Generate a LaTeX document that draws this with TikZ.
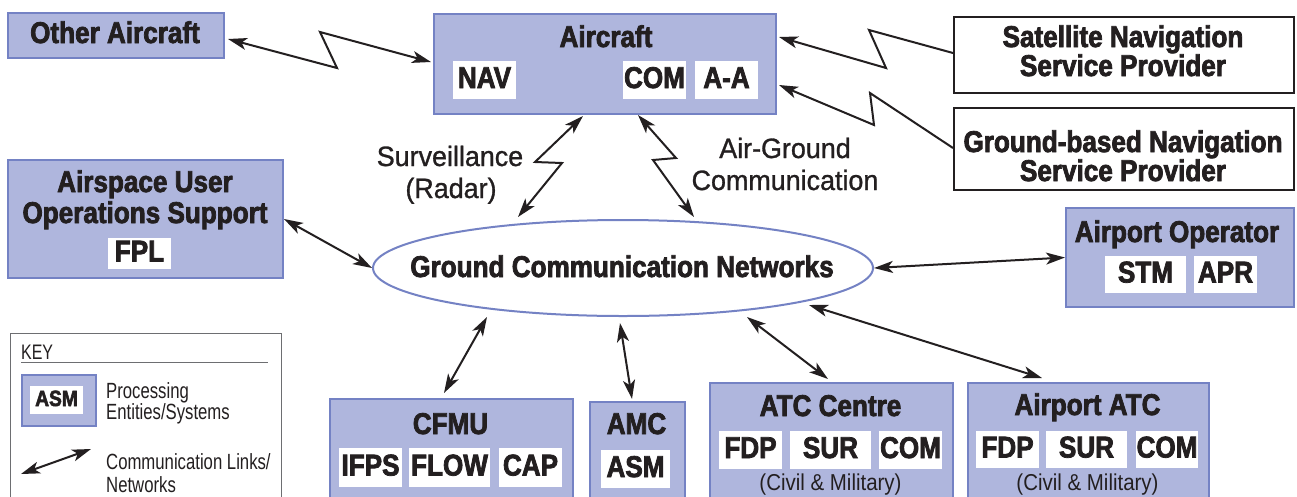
\documentclass[tikz,border=0pt]{standalone}
\usepackage{fontspec}
\setmainfont[FakeStretch=0.87, BoldFeatures={FakeBold=2.5}]{Liberation Sans}
\newfontfamily\lblfam[FakeStretch=0.96, FakeBold=1]{Liberation Sans}
\newfontfamily\civfam[FakeStretch=0.89]{Liberation Sans}
\newfontfamily\keyfam[FakeStretch=0.76]{Liberation Sans}
\usetikzlibrary{arrows.meta,shapes.geometric}
\definecolor{boxfill}{HTML}{AFB6DD}
\definecolor{boxline}{HTML}{7482C4}
\definecolor{ink}{HTML}{231F20}
\definecolor{keyline}{HTML}{6D6E71}
\newcommand\ttlfont{\fontsize{30}{30}\selectfont\bfseries}
\newcommand\lblfont{\fontsize{28}{28}\selectfont\lblfam}
\newcommand\civfont{\fontsize{23}{23}\selectfont\civfam}
\newcommand\keyfont{\fontsize{22}{22}\selectfont\keyfam}
\tikzset{
  sysbox/.style={draw=boxline, fill=boxfill, line width=2pt, inner sep=0pt, anchor=north west},
  navbox/.style={draw=ink, fill=white, line width=2pt, inner sep=0pt, anchor=north west},
  sub/.style={fill=white, inner sep=0pt, text height=22pt, text depth=6pt, font=\ttlfont, text=ink},
  ttl/.style={anchor=base, inner sep=0pt, font=\ttlfont, text=ink},
  lbl/.style={anchor=base, inner sep=0pt, font=\lblfont, text=ink},
  civ/.style={anchor=base, inner sep=0pt, font=\civfont, text=ink},
  keytxt/.style={anchor=base west, inner sep=0pt, font=\keyfont, text=ink},
  tip/.tip={Stealth[length=19pt, width=12pt, inset=5pt]},
  link/.style={draw=ink, line width=2pt, tip-tip},
  link1/.style={draw=ink, line width=2pt, -tip},
}
\begin{document}
\begin{tikzpicture}[x=1pt, y=-1pt]
\useasboundingbox (0,0) rectangle (1297,496);
\clip (0,0) rectangle (1297,496);
\fill[white] (0,0) rectangle (1297,496);

% ---- entities ----
\node[sysbox, minimum width=216pt, minimum height=45pt] (oa) at (7,12) {};
\node[ttl] (oa-t) at (115,43) {Other Aircraft};

\node[sysbox, minimum width=342pt, minimum height=100pt] (ac) at (433,13) {};
\node[ttl] (ac-t) at (606,47) {Aircraft};
\node[sub, minimum width=63pt, minimum height=38pt] (ac-nav) at (484.5,80) {NAV};
\node[sub, minimum width=63pt, minimum height=38pt] (ac-com) at (654.5,80) {COM};
\node[sub, minimum width=63pt, minimum height=38pt] (ac-aa) at (726.5,80) {A-A};

\node[navbox, minimum width=340pt, minimum height=76pt] (sat) at (953,16) {};
\node[ttl] (sat-t1) at (1123,47) {Satellite Navigation};
\node[ttl] (sat-t2) at (1123,76) {Service Provider};

\node[navbox, minimum width=340pt, minimum height=82pt] (gnd) at (953,107) {};
\node[ttl] (gnd-t1) at (1123,152) {Ground-based Navigation};
\node[ttl] (gnd-t2) at (1123,181) {Service Provider};

\node[sysbox, minimum width=275pt, minimum height=118pt] (aus) at (7,159) {};
\node[ttl] (aus-t1) at (145,192) {Airspace User};
\node[ttl] (aus-t2) at (145,223) {Operations Support};
\node[sub, minimum width=63pt, minimum height=31pt] (aus-fpl) at (139.5,253.5) {FPL};

\node[ellipse, draw=boxline, fill=white, line width=2pt, inner sep=0pt,
      minimum width=500pt, minimum height=96pt] (gcn) at (623,268) {};
\node[ttl] (gcn-t) at (622,277) {Ground Communication Networks};

\node[sysbox, minimum width=228pt, minimum height=99pt] (apo) at (1065,207) {};
\node[ttl] (apo-t) at (1177,242) {Airport Operator};
\node[sub, minimum width=81pt, minimum height=37pt] (apo-stm) at (1145.5,274.5) {STM};
\node[sub, minimum width=63pt, minimum height=37pt] (apo-apr) at (1225.5,274.5) {APR};

\node[sysbox, minimum width=243pt, minimum height=130pt] (cfmu) at (329,398) {};
\node[ttl] (cfmu-t) at (450.5,434) {CFMU};
\node[sub, minimum width=63pt, minimum height=39pt] (cfmu-ifps) at (370.5,467.5) {IFPS};
\node[sub, minimum width=81pt, minimum height=39pt] (cfmu-flow) at (449.5,467.5) {FLOW};
\node[sub, minimum width=63pt, minimum height=39pt] (cfmu-cap) at (530.5,467.5) {CAP};

\node[sysbox, minimum width=95pt, minimum height=130pt] (amc) at (589,401) {};
\node[ttl] (amc-t) at (636.5,434) {AMC};
\node[sub, minimum width=69pt, minimum height=38pt] (amc-asm) at (635.5,469) {ASM};

\node[sysbox, minimum width=243pt, minimum height=140pt] (atc) at (709,382) {};
\node[ttl] (atc-t) at (830.5,416) {ATC Centre};
\node[sub, minimum width=63pt, minimum height=38pt] (atc-fdp) at (750.5,450) {FDP};
\node[sub, minimum width=81pt, minimum height=38pt] (atc-sur) at (830.5,450) {SUR};
\node[sub, minimum width=63pt, minimum height=38pt] (atc-com) at (910.5,450) {COM};
\node[civ] (atc-c) at (830.5,490) {(Civil \& Military)};

\node[sysbox, minimum width=241pt, minimum height=140pt] (aatc) at (967,382) {};
\node[ttl] (aatc-t) at (1087.5,415) {Airport ATC};
\node[sub, minimum width=63pt, minimum height=37pt] (aatc-fdp) at (1007.5,449.5) {FDP};
\node[sub, minimum width=81pt, minimum height=37pt] (aatc-sur) at (1086.5,449.5) {SUR};
\node[sub, minimum width=62pt, minimum height=37pt] (aatc-com) at (1167,449.5) {COM};
\node[civ] (aatc-c) at (1087.5,490) {(Civil \& Military)};

% ---- link labels ----
\node[lbl] (sur-l1) at (450,166) {Surveillance};
\node[lbl] (sur-l2) at (451,198) {(Radar)};
\node[lbl] (agc-l1) at (785,158) {Air-Ground};
\node[lbl] (agc-l2) at (785,190) {Communication};

% ---- link end points ----
\coordinate (oa-e) at (228,39);
\coordinate (ac-w) at (431,62);
\coordinate (ac-sat) at (779,37);
\coordinate (ac-gnd) at (779,85);
\coordinate (sat-w) at (953,53);
\coordinate (gnd-w) at (953,148);
\coordinate (ac-s1) at (583,116);
\coordinate (ac-s2) at (638,115);
\coordinate (gcn-n1) at (518,217);
\coordinate (gcn-n2) at (694,217);
\coordinate (gcn-s1) at (487,317);
\coordinate (gcn-s2) at (620,323);
\coordinate (gcn-s3) at (747,317);
\coordinate (gcn-s4) at (809,305);
\coordinate (cfmu-n) at (444,393);
\coordinate (amc-n) at (632,399);
\coordinate (atc-n) at (828,379);
\coordinate (aatc-n) at (1042,378);

% ---- links ----
\draw[link] (oa-e) -- (337,68) -- (320,32) -- (ac-w);
\draw[link1] (sat-w) -- (869,30) -- (886,68) -- (ac-sat);
\draw[link1] (gnd-w) -- (870,93) -- (874,125) -- (ac-gnd);
\draw[link] (ac-s1) -- (535,162) -- (562,163) -- (gcn-n1);
\draw[link] (ac-s2) -- (676,158) -- (653,160) -- (gcn-n2);
\draw[link] (aus.east) -- (gcn.west);
\draw[link] (gcn.east) -- (apo.west);
\draw[link] (gcn-s1) -- (cfmu-n);
\draw[link] (gcn-s2) -- (amc-n);
\draw[link] (gcn-s3) -- (atc-n);
\draw[link] (gcn-s4) -- (aatc-n);

% ---- key ----
\node[draw=keyline, line width=1pt, inner sep=0pt, anchor=north west,
      minimum width=271pt, minimum height=180pt] (key) at (10,333) {};
\node[keytxt, font=\fontsize{21}{21}\selectfont\keyfam] (key-t) at (21,359) {KEY};
\draw[keyline, line width=1pt] (key-t.base west) ++(0,3) coordinate (key-u) -- ++(247,0);
\node[sysbox, minimum width=74pt, minimum height=51pt] (key-box) at (21,374) {};
\node[fill=white, inner sep=0pt, minimum width=53pt, minimum height=28pt,
      text height=16pt, text depth=4pt, text=ink,
      font=\fontsize{22}{22}\selectfont\bfseries] (key-asm) at (56.5,400) {ASM};
\node[keytxt] (key-p1) at (106,398) {Processing};
\node[keytxt] (key-p2) at (106,419) {Entities/Systems};
\coordinate (key-a1) at (21,474);
\coordinate (key-a2) at (91,449);
\draw[link] (key-a1) -- (key-a2);
\node[keytxt] (key-c1) at (106,469) {Communication Links/};
\node[keytxt] (key-c2) at (106,492) {Networks};
\end{tikzpicture}
\end{document}
